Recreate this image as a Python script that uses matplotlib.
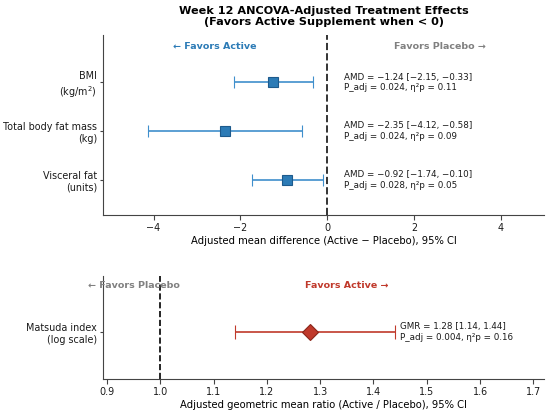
import numpy as np
import matplotlib
matplotlib.use("Agg")
import matplotlib.pyplot as plt

# body composition outcomes (adjusted mean difference, 95% CI)
outcomes = ["BMI\n(kg/m$^2$)", "Total body fat mass\n(kg)", "Visceral fat\n(units)"]
amd = [-1.24, -2.35, -0.92]
amd_lo = [-2.15, -4.12, -1.74]
amd_hi = [-0.33, -0.58, -0.10]
p_adj = ["0.024", "0.024", "0.028"]
eta2p = ["0.11", "0.09", "0.05"]

# Matsuda index (geometric mean ratio)
gmr_label = "Matsuda index\n(log scale)"
gmr = 1.28
gmr_lo = 1.14
gmr_hi = 1.44
gmr_p = "0.004"
gmr_eta = "0.16"

blue = "#2C7BB6"
blue_edge = "#1d5a8c"
red = "#C0392B"
red_edge = "#8a2519"

fig = plt.figure(figsize=(5.5, 4.13), dpi=100)
ax1 = fig.add_axes([0.1878, 0.4794, 0.8013, 0.4358])
ax2 = fig.add_axes([0.1878, 0.0823, 0.8013, 0.2494])

# top panel
ypos = np.arange(len(outcomes))[::-1]
lo_err = np.array(amd) - np.array(amd_lo)
hi_err = np.array(amd_hi) - np.array(amd)
ax1.errorbar(amd, ypos, xerr=[lo_err, hi_err], fmt="s", color=blue, ecolor="#3f8fcc",
             elinewidth=1.2, capsize=4, capthick=1.2, markersize=7,
             markerfacecolor=blue, markeredgecolor=blue_edge, markeredgewidth=0.8)
ax1.axvline(0, color="#333333", linestyle="--", linewidth=1.4)
for i in range(len(outcomes)):
    txt = f"AMD = \u2212{abs(amd[i]):.2f} [\u2212{abs(amd_lo[i]):.2f}, \u2212{abs(amd_hi[i]):.2f}]\nP_adj = {p_adj[i]}, \u03b7\u00b2p = {eta2p[i]}"
    ax1.text(0.4, ypos[i], txt, fontsize=6.3, va="center", ha="left", color="#1a1a1a")
ax1.text(-2.6, 2.73, "\u2190 Favors Active", color=blue, fontweight="bold",
         fontsize=6.8, ha="center", va="center")
ax1.text(2.6, 2.73, "Favors Placebo \u2192", color="#808080", fontweight="bold",
         fontsize=6.8, ha="center", va="center")
ax1.set_yticks(ypos)
ax1.set_yticklabels(outcomes, fontsize=6.9)
ax1.set_xlim(-5.16, 5.0)
ax1.set_ylim(-0.72, 2.97)
ax1.set_xticks([-4, -2, 0, 2, 4])
ax1.tick_params(axis="x", labelsize=6.9, pad=2.5)
ax1.set_xlabel("Adjusted mean difference (Active \u2212 Placebo), 95% CI", fontsize=7.2, labelpad=2)
ax1.set_title("Week 12 ANCOVA-Adjusted Treatment Effects\n(Favors Active Supplement when < 0)",
              fontsize=8.1, fontweight="bold", pad=7)

# bottom panel
ax2.errorbar([gmr], [0], xerr=[[gmr - gmr_lo], [gmr_hi - gmr]], fmt="D", color=red,
             ecolor=red, elinewidth=1.2, capsize=5, capthick=1.2, markersize=8,
             markerfacecolor=red, markeredgecolor=red_edge, markeredgewidth=0.8)
ax2.axvline(1.0, color="black", linestyle="--", linewidth=1.2)
ax2.text(gmr_hi + 0.01, 0, f"GMR = {gmr:.2f} [{gmr_lo:.2f}, {gmr_hi:.2f}]\nP_adj = {gmr_p}, \u03b7\u00b2p = {gmr_eta}",
         fontsize=6.3, va="center", ha="left", color="#1a1a1a")
ax2.text(0.95, 0.5, "\u2190 Favors Placebo", color="#808080", fontweight="bold",
         fontsize=6.8, ha="center", va="center")
ax2.text(1.35, 0.5, "Favors Active \u2192", color=red, fontweight="bold",
         fontsize=6.8, ha="center", va="center")
ax2.set_yticks([0])
ax2.set_yticklabels([gmr_label], fontsize=6.9)
ax2.set_xlim(0.893, 1.72)
ax2.set_ylim(-0.5, 0.6)
ax2.set_xticks([0.9, 1.0, 1.1, 1.2, 1.3, 1.4, 1.5, 1.6, 1.7])
ax2.tick_params(axis="x", labelsize=6.9, pad=2.5)
ax2.set_xlabel("Adjusted geometric mean ratio (Active / Placebo), 95% CI", fontsize=7.2, labelpad=2)

for ax in (ax1, ax2):
    ax.spines["top"].set_visible(False)
    ax.spines["right"].set_visible(False)
    ax.spines["left"].set_color("#444444")
    ax.spines["bottom"].set_color("#444444")
    ax.tick_params(colors="#444444", labelcolor="#1a1a1a")
    ax.tick_params(axis="y", length=2.5, pad=2)

fig.savefig("out.png", dpi=100)
